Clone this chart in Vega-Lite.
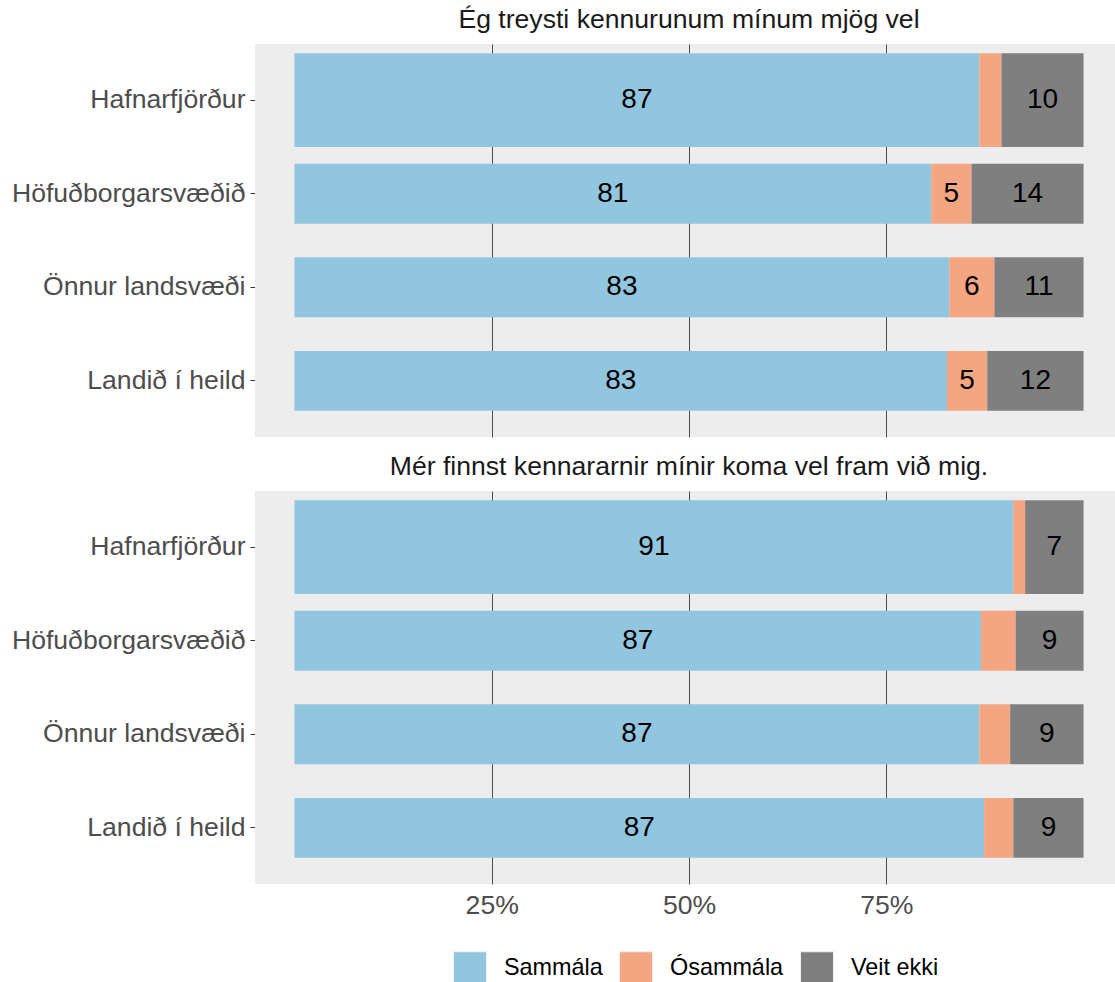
{
  "$schema": "https://vega.github.io/schema/vega-lite/v6.json",
  "padding": {"left": 0, "top": 7, "right": 0, "bottom": 0},
  "background": "white",
  "config": {
    "font": "Liberation Sans",
    "view": {"fill": "#EDEDED", "stroke": null}
  },
  "data": {
    "values": [
      {"question": "Ég treysti kennurunum mínum mjög vel", "region": "Hafnarfjörður", "response": "Sammála", "k": 1, "value": 86.8},
      {"question": "Ég treysti kennurunum mínum mjög vel", "region": "Hafnarfjörður", "response": "Ósammála", "k": 2, "value": 2.8},
      {"question": "Ég treysti kennurunum mínum mjög vel", "region": "Hafnarfjörður", "response": "Veit ekki", "k": 3, "value": 10.4},
      {"question": "Ég treysti kennurunum mínum mjög vel", "region": "Höfuðborgarsvæðið", "response": "Sammála", "k": 1, "value": 80.7},
      {"question": "Ég treysti kennurunum mínum mjög vel", "region": "Höfuðborgarsvæðið", "response": "Ósammála", "k": 2, "value": 5.1},
      {"question": "Ég treysti kennurunum mínum mjög vel", "region": "Höfuðborgarsvæðið", "response": "Veit ekki", "k": 3, "value": 14.2},
      {"question": "Ég treysti kennurunum mínum mjög vel", "region": "Önnur landsvæði", "response": "Sammála", "k": 1, "value": 83.0},
      {"question": "Ég treysti kennurunum mínum mjög vel", "region": "Önnur landsvæði", "response": "Ósammála", "k": 2, "value": 5.7},
      {"question": "Ég treysti kennurunum mínum mjög vel", "region": "Önnur landsvæði", "response": "Veit ekki", "k": 3, "value": 11.3},
      {"question": "Ég treysti kennurunum mínum mjög vel", "region": "Landið í heild", "response": "Sammála", "k": 1, "value": 82.7},
      {"question": "Ég treysti kennurunum mínum mjög vel", "region": "Landið í heild", "response": "Ósammála", "k": 2, "value": 5.1},
      {"question": "Ég treysti kennurunum mínum mjög vel", "region": "Landið í heild", "response": "Veit ekki", "k": 3, "value": 12.2},
      {"question": "Mér finnst kennararnir mínir koma vel fram við mig.", "region": "Hafnarfjörður", "response": "Sammála", "k": 1, "value": 91.1},
      {"question": "Mér finnst kennararnir mínir koma vel fram við mig.", "region": "Hafnarfjörður", "response": "Ósammála", "k": 2, "value": 1.5},
      {"question": "Mér finnst kennararnir mínir koma vel fram við mig.", "region": "Hafnarfjörður", "response": "Veit ekki", "k": 3, "value": 7.4},
      {"question": "Mér finnst kennararnir mínir koma vel fram við mig.", "region": "Höfuðborgarsvæðið", "response": "Sammála", "k": 1, "value": 87.0},
      {"question": "Mér finnst kennararnir mínir koma vel fram við mig.", "region": "Höfuðborgarsvæðið", "response": "Ósammála", "k": 2, "value": 4.4},
      {"question": "Mér finnst kennararnir mínir koma vel fram við mig.", "region": "Höfuðborgarsvæðið", "response": "Veit ekki", "k": 3, "value": 8.6},
      {"question": "Mér finnst kennararnir mínir koma vel fram við mig.", "region": "Önnur landsvæði", "response": "Sammála", "k": 1, "value": 86.8},
      {"question": "Mér finnst kennararnir mínir koma vel fram við mig.", "region": "Önnur landsvæði", "response": "Ósammála", "k": 2, "value": 3.9},
      {"question": "Mér finnst kennararnir mínir koma vel fram við mig.", "region": "Önnur landsvæði", "response": "Veit ekki", "k": 3, "value": 9.3},
      {"question": "Mér finnst kennararnir mínir koma vel fram við mig.", "region": "Landið í heild", "response": "Sammála", "k": 1, "value": 87.4},
      {"question": "Mér finnst kennararnir mínir koma vel fram við mig.", "region": "Landið í heild", "response": "Ósammála", "k": 2, "value": 3.7},
      {"question": "Mér finnst kennararnir mínir koma vel fram við mig.", "region": "Landið í heild", "response": "Veit ekki", "k": 3, "value": 8.9}
    ]
  },
  "facet": {
    "field": "question",
    "type": "nominal",
    "sort": ["Ég treysti kennurunum mínum mjög vel", "Mér finnst kennararnir mínir koma vel fram við mig."],
    "header": {"title": null, "labelFontSize": 26.6, "labelColor": "#1A1A1A", "labelFont": "Liberation Sans", "labelPadding": 10, "labelLimit": 0}
  },
  "columns": 1,
  "spacing": {"row": 17},
  "spec": {
    "width": 868,
    "height": 393,
    "encoding": {
      "y": {
        "field": "region", "type": "nominal",
        "sort": ["Hafnarfjörður", "Höfuðborgarsvæðið", "Önnur landsvæði", "Landið í heild"],
        "title": null,
        "scale": {"paddingInner": 0, "paddingOuter": 0.1},
        "axis": {"domain": false, "ticks": true, "tickSize": 5, "tickColor": "#333333", "tickWidth": 1, "labelFontSize": 26.6, "labelColor": "#4D4D4D", "labelPadding": 5, "labelLimit": 0, "grid": false, "minExtent": 255, "maxExtent": 255}
      },
      "x": {
        "field": "value", "type": "quantitative", "stack": "zero",
        "scale": {"domain": [-5, 105], "nice": false, "zero": false},
        "title": null,
        "axis": {"values": [25, 50, 75], "labelExpr": "datum.value + '%'", "grid": true, "gridColor": "#4D4D4D", "gridWidth": 1, "domain": false, "ticks": false, "tickSize": 0, "labelFontSize": 26.6, "labelColor": "#4D4D4D", "labelPadding": 8}
      },
      "order": {"field": "k", "type": "quantitative"}
    },
    "layer": [
      {
        "transform": [{"filter": "datum.region === 'Hafnarfjörður'"}],
        "mark": {"type": "bar", "height": {"band": 1}},
        "encoding": {
          "color": {"field": "response", "type": "nominal",
            "scale": {"domain": ["Sammála", "Ósammála", "Veit ekki"], "range": ["#92C5DE", "#F4A582", "#7F7F7F"]},
            "legend": {"title": null, "orient": "none", "legendX": 198, "legendY": 907, "direction": "horizontal", "symbolType": "square", "symbolSize": 1089, "symbolStrokeColor": "#F2F2F2", "symbolStrokeWidth": 1, "symbolOpacity": 1, "labelFontSize": 23.4, "labelColor": "black", "labelOffset": 17, "columnPadding": 14, "padding": 0}}
        }
      },
      {
        "transform": [{"filter": "datum.region !== 'Hafnarfjörður'"}],
        "mark": {"type": "bar", "height": {"band": 0.64}},
        "encoding": {
          "color": {"field": "response", "type": "nominal",
            "scale": {"domain": ["Sammála", "Ósammála", "Veit ekki"], "range": ["#92C5DE", "#F4A582", "#7F7F7F"]},
            "legend": {"title": null, "orient": "none", "legendX": 198, "legendY": 907, "direction": "horizontal", "symbolType": "square", "symbolSize": 1089, "symbolStrokeColor": "#F2F2F2", "symbolStrokeWidth": 1, "symbolOpacity": 1, "labelFontSize": 23.4, "labelColor": "black", "labelOffset": 17, "columnPadding": 14, "padding": 0}}
        }
      },
      {
        "mark": {"type": "text", "fontSize": 28, "color": "black", "align": "center", "baseline": "middle"},
        "encoding": {
          "x": {"field": "value", "type": "quantitative", "stack": "zero", "bandPosition": 0.5},
          "text": {"field": "value", "type": "quantitative", "format": ".0f", "condition": {"test": "datum.value < 4.5", "value": ""}}
        }
      }
    ]
  }
}
